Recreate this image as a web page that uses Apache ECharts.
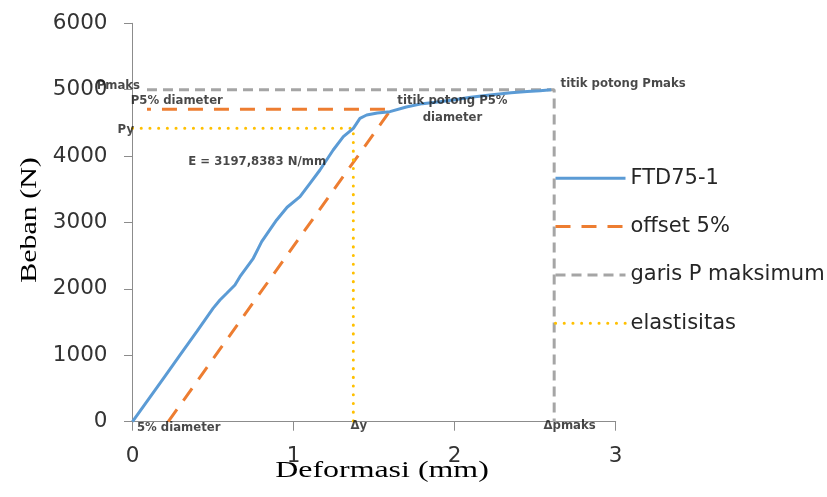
<!DOCTYPE html>
<html>
<head>
<meta charset="utf-8">
<script src="https://cdn.jsdelivr.net/npm/echarts@6/dist/echarts.min.js"></script>
<style>
  html, body { margin: 0; padding: 0; background: #fff; }
  #chart { width: 827px; height: 497px; }
</style>
</head>
<body>
<div id="chart"></div>
<script>
// Load–deformation test result (FTD75-1) with the 5% offset yield construction.

// Measured curve: deformation (mm), load (N)
const curveDeformation = [0, 0.1, 0.2, 0.3, 0.4, 0.5, 0.543, 0.585, 0.636, 0.667, 0.75, 0.781, 0.802, 0.85, 0.895, 0.96, 1.04, 1.102, 1.164, 1.246, 1.309, 1.371, 1.412, 1.454, 1.52, 1.598, 1.7, 1.8, 1.909, 2.0, 2.1, 2.219, 2.35, 2.45, 2.53, 2.6];
const curveLoad        = [0, 340, 680, 1020, 1360, 1706, 1833, 1934, 2059, 2184, 2461, 2611, 2711, 2880, 3038, 3230, 3389, 3590, 3791, 4092, 4292, 4418, 4569, 4619, 4650, 4669, 4740, 4790, 4820, 4850, 4885, 4920, 4955, 4972, 4985, 4998];

// Offset line (5% of diameter) and its horizontal projection P5%
const offsetDeformation = [0.222, 1.606, 0.09];
const offsetLoad        = [0, 4705, 4705];

// Maximum load line
const pmaxDeformation = [0.09, 2.618, 2.618];
const pmaxLoad        = [5000, 5000, 0];

// Elastic limit construction (Py, Δy)
const elasticDeformation = [0, 1.371, 1.371];
const elasticLoad        = [4418, 4418, 0];

const seriesNames = ['FTD75-1', 'offset 5%', 'garis P maksimum', 'elastisitas'];

// Axis ranges
const xTicks = [0, 1, 2, 3];
const yTicks = [0, 1000, 2000, 3000, 4000, 5000, 6000];

// Annotation texts and the data points they belong to
const noteText = ['Pmaks', 'P5% diameter', 'Py', 'E = 3197,8383 N/mm', 'titik potong P5%\ndiameter', 'titik potong Pmaks', '5% diameter', 'Δy', 'Δpmaks'];
const noteX    = [0, 0, 0, 0.774, 1.606, 2.618, 0.222, 1.371, 2.618];
const noteY    = [5000, 4705, 4418, 3907, 4705, 5000, 0, 0, 0];

const pairs = (xs, ys) => xs.map((x, i) => [x, ys[i]]);

// Label placement for each annotation: [align, dx, dy]
const noteLayout = [
  ['right', 7.5, -3.7],
  ['left', -1.8, -8.3],
  ['right', 1.5, 1.7],
  ['center', 0, 0],
  ['center', 61.3, 0.2],
  ['left', 6.4, -5.4],
  ['center', 10.4, 6],
  ['center', 5.4, 4.3],
  ['center', 15.4, 4]
];

const chart = echarts.init(document.getElementById('chart'), null, { renderer: 'canvas' });

const tickFont = { fontFamily: 'DejaVu Sans', fontSize: 21.5, color: '#333333', formatter: v => String(v) };
const axisGrey = '#8c8c8c';

const lineSeries = (name, data, color, width, type, extra) => Object.assign({
  name: name,
  type: 'line',
  data: data,
  symbol: 'none',
  showSymbol: false,
  animation: false,
  lineStyle: { color: color, width: width, type: type },
  itemStyle: { color: color },
  z: 2
}, extra || {});

chart.setOption({
  animation: false,
  backgroundColor: '#ffffff',
  grid: { left: 132.5, right: 211.3, top: 23.3, bottom: 75.3, containLabel: false },
  xAxis: {
    type: 'value',
    min: xTicks[0], max: xTicks[xTicks.length - 1], interval: 1,
    axisLine: { show: true, onZero: false, lineStyle: { color: axisGrey, width: 1 } },
    axisTick: { show: true, length: 9, lineStyle: { color: axisGrey } },
    axisLabel: Object.assign({ margin: 24 }, tickFont),
    splitLine: { show: false }
  },
  yAxis: {
    type: 'value',
    min: yTicks[0], max: yTicks[yTicks.length - 1], interval: 1000,
    axisLine: { show: true, lineStyle: { color: axisGrey, width: 1 } },
    axisTick: { show: true, length: 8.5, lineStyle: { color: axisGrey } },
    axisLabel: Object.assign({ margin: 25 }, tickFont),
    splitLine: { show: false }
  },
  legend: {
    orient: 'vertical',
    left: 554, top: 167.8,
    padding: 0,
    itemWidth: 70, itemHeight: 14, itemGap: 27.3,
    itemStyle: { opacity: 0 },
    lineStyle: { width: 3 },
    data: seriesNames,
    textStyle: { fontFamily: 'DejaVu Sans', fontSize: 21, color: '#262626' }
  },
  series: [
    lineSeries(seriesNames[2], pairs(pmaxDeformation, pmaxLoad), '#a5a5a5', 3, [10, 6]),
    lineSeries(seriesNames[1], pairs(offsetDeformation, offsetLoad), '#ed7d31', 3, [15, 11]),
    lineSeries(seriesNames[3], pairs(elasticDeformation, elasticLoad), '#ffc000', 3, [0.1, 8.6], { lineStyle: { color: '#ffc000', width: 3, type: [0.1, 8.6], cap: 'round' } }),
    lineSeries(seriesNames[0], pairs(curveDeformation, curveLoad), '#5b9bd5', 3, 'solid', { z: 3 }),
    {
      name: 'notes',
      type: 'scatter',
      symbolSize: 0,
      silent: true,
      z: 5,
      animation: false,
      data: noteText.map((t, i) => ({
        value: [noteX[i], noteY[i]],
        label: {
          show: true,
          position: 'inside',
          formatter: t,
          align: noteLayout[i][0],
          verticalAlign: 'middle',
          offset: [noteLayout[i][1], noteLayout[i][2]],
          fontFamily: 'DejaVu Sans',
          fontWeight: 'bold',
          fontSize: 11.7,
          lineHeight: 17.6,
          color: '#1a1a1a'
        }
      }))
    }
  ],
  graphic: [
    {
      type: 'text',
      x: 30, y: 220,
      rotation: Math.PI / 2,
      scaleX: 1.3,
      style: {
        text: 'Beban (N)',
        font: '23px "Liberation Serif"',
        fill: '#000000',
        textAlign: 'center',
        textVerticalAlign: 'middle'
      }
    },
    {
      type: 'text',
      x: 382, y: 471,
      scaleX: 1.33,
      style: {
        text: 'Deformasi (mm)',
        font: '24px "Liberation Serif"',
        fill: '#000000',
        textAlign: 'center',
        textVerticalAlign: 'middle'
      }
    }
  ]
});
</script>
</body>
</html>
